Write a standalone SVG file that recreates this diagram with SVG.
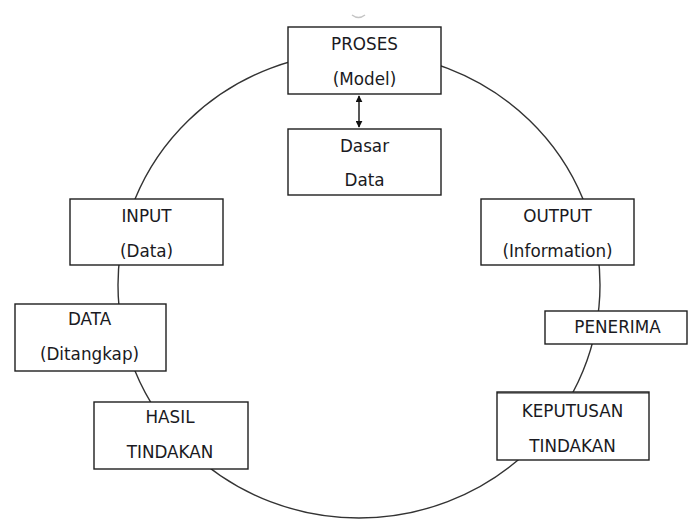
<svg xmlns="http://www.w3.org/2000/svg" width="688" height="520" viewBox="0 0 688 520">
<defs>
<marker id="ah" viewBox="0 0 10 10" refX="9" refY="5" markerWidth="7" markerHeight="7" markerUnits="userSpaceOnUse" orient="auto-start-reverse">
<path d="M0,0 L10,5 L0,10 z" fill="#111"/>
</marker>
<style>
.box{fill:#fff;stroke:#1e1e1e;stroke-width:1.4}
.t{font-family:"DejaVu Sans",Verdana,sans-serif;font-size:16.8px;fill:#1a1a22;text-anchor:middle}
.ring{fill:none;stroke:#333;stroke-width:1.4}
</style>
</defs>
<rect width="688" height="520" fill="#fff"/>
<path d="M352,15 Q358.5,20 365,15" fill="none" stroke="#c4c4c4" stroke-width="1.5"/>
<g id="connectors">
<ellipse class="ring" cx="359" cy="285" rx="241" ry="233"/>
<line x1="359" y1="96" x2="359" y2="127" stroke="#111" stroke-width="1.4" marker-start="url(#ah)" marker-end="url(#ah)"/>
</g>
<g id="proses">
<rect class="box" x="288" y="27" width="153" height="67"/>
<text class="t" x="364.5" y="50">PROSES</text>
<text class="t" x="364.5" y="85">(Model)</text>
</g>
<g id="dasar-data">
<rect class="box" x="288" y="129" width="153" height="66"/>
<text class="t" x="364.5" y="152">Dasar</text>
<text class="t" x="364.5" y="186">Data</text>
</g>
<g id="input">
<rect class="box" x="70" y="199" width="153" height="66"/>
<text class="t" x="146.5" y="222">INPUT</text>
<text class="t" x="146.5" y="257">(Data)</text>
</g>
<g id="data">
<rect class="box" x="15" y="304" width="151" height="67"/>
<text class="t" x="89.5" y="325">DATA</text>
<text class="t" x="89.5" y="360">(Ditangkap)</text>
</g>
<g id="hasil">
<rect class="box" x="94" y="402" width="154" height="67"/>
<text class="t" x="170" y="423">HASIL</text>
<text class="t" x="170" y="458">TINDAKAN</text>
</g>
<g id="output">
<rect class="box" x="481" y="199" width="153" height="66"/>
<text class="t" x="557.5" y="222">OUTPUT</text>
<text class="t" x="557.5" y="257">(Information)</text>
</g>
<g id="penerima">
<rect class="box" x="545" y="311" width="142" height="33"/>
<text class="t" x="617.5" y="333">PENERIMA</text>
</g>
<g id="keputusan">
<rect class="box" x="497" y="392" width="152" height="68" stroke-width="1.8"/>
<line x1="497" y1="393" x2="649" y2="393" stroke="#1e1e1e" stroke-width="1.2"/>
<text class="t" x="572.5" y="417">KEPUTUSAN</text>
<text class="t" x="572.5" y="452">TINDAKAN</text>
</g>
</svg>
